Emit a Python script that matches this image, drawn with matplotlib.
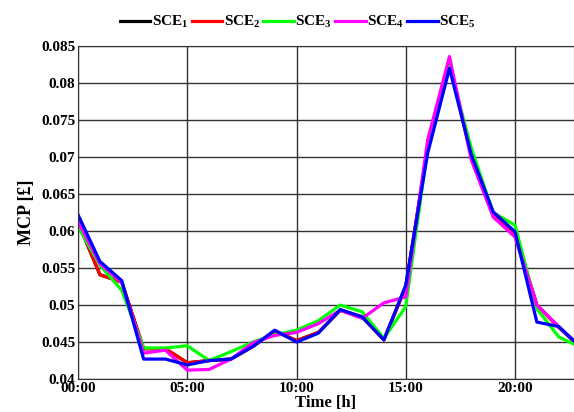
import numpy as np
import matplotlib.pyplot as plt

plt.rcParams['font.family'] = 'Liberation Serif'
plt.rcParams['font.weight'] = 'bold'
plt.rcParams['mathtext.fontset'] = 'custom'
plt.rcParams['mathtext.rm'] = 'Liberation Serif:bold'
plt.rcParams['mathtext.it'] = 'Liberation Serif:bold'
plt.rcParams['mathtext.bf'] = 'Liberation Serif:bold'

hours = np.arange(24)

sce1 = [0.0612, 0.0541, 0.0531, 0.0441, 0.0441, 0.0422, 0.0425, 0.0427, 0.0444, 0.0465,
        0.0452, 0.0463, 0.0493, 0.0484, 0.0453, 0.0525, 0.0712, 0.0826, 0.0703, 0.0624,
        0.0597, 0.0500, 0.0470, 0.0443]
sce2 = [0.0612, 0.0541, 0.0531, 0.0441, 0.0441, 0.0422, 0.0425, 0.0427, 0.0444, 0.0465,
        0.0452, 0.0463, 0.0493, 0.0484, 0.0453, 0.0525, 0.0712, 0.0826, 0.0703, 0.0624,
        0.0597, 0.0500, 0.0470, 0.0443]
sce3 = [0.0606, 0.0554, 0.0520, 0.0442, 0.0442, 0.0445, 0.0425, 0.0437, 0.0450, 0.0460,
        0.0466, 0.0479, 0.0500, 0.0491, 0.0455, 0.0498, 0.0712, 0.0823, 0.0712, 0.0625,
        0.0608, 0.0495, 0.0457, 0.0443]
sce4 = [0.0613, 0.0556, 0.0530, 0.0435, 0.0439, 0.0412, 0.0413, 0.0427, 0.0449, 0.0459,
        0.0463, 0.0475, 0.0493, 0.0482, 0.0503, 0.0511, 0.0723, 0.0836, 0.0696, 0.0619,
        0.0592, 0.0500, 0.0471, 0.0443]
sce5 = [0.0622, 0.0559, 0.0533, 0.0427, 0.0427, 0.0419, 0.0425, 0.0427, 0.0444, 0.0466,
        0.0450, 0.0462, 0.0494, 0.0484, 0.0453, 0.0527, 0.0705, 0.0820, 0.0703, 0.0626,
        0.0599, 0.0477, 0.0471, 0.0443]

series = [sce1, sce2, sce3, sce4, sce5]
labels = [r'SCE$_{1}$', r'SCE$_{2}$', r'SCE$_{3}$', r'SCE$_{4}$', r'SCE$_{5}$']
colors = ['black', 'red', '#00ff00', '#ff00ff', '#0000ff']

fig = plt.figure(figsize=(5.74, 4.12), dpi=100)
ax = fig.add_axes([0.136, 0.080, 0.864, 0.808])

for s, lab, c in zip(series, labels, colors):
    ax.plot(hours, s, color=c, lw=2.3, label=lab)

ax.set_xlim(0, 22.7)
ax.set_ylim(0.04, 0.085)
ax.set_xticks([0, 5, 10, 15, 20])
ax.set_xticklabels(['00:00', '05:00', '10:00', '15:00', '20:00'])
ax.set_yticks(np.arange(0.04, 0.0851, 0.005))
ax.set_yticklabels(['0.04', '0.045', '0.05', '0.055', '0.06', '0.065', '0.07', '0.075', '0.08', '0.085'])
ax.tick_params(length=0, labelsize=11, pad=2)
for t in ax.get_xticklabels() + ax.get_yticklabels():
    t.set_fontweight('bold')
ax.grid(True, color='#333333', lw=1)
for sp in ax.spines.values():
    sp.set_color('#333333')

ax.set_xlabel('Time [h]', fontsize=12, fontweight='bold', labelpad=0)
ax.set_ylabel('MCP [£]', fontsize=13, fontweight='bold', labelpad=4)

fig.legend(loc='center', bbox_to_anchor=(298 / 574, 1 - 22 / 412), ncol=5, frameon=False,
           handlelength=2.0, handletextpad=0.1, columnspacing=0.2,
           prop={'weight': 'bold', 'size': 11})

fig.savefig('out.png', dpi=100)
